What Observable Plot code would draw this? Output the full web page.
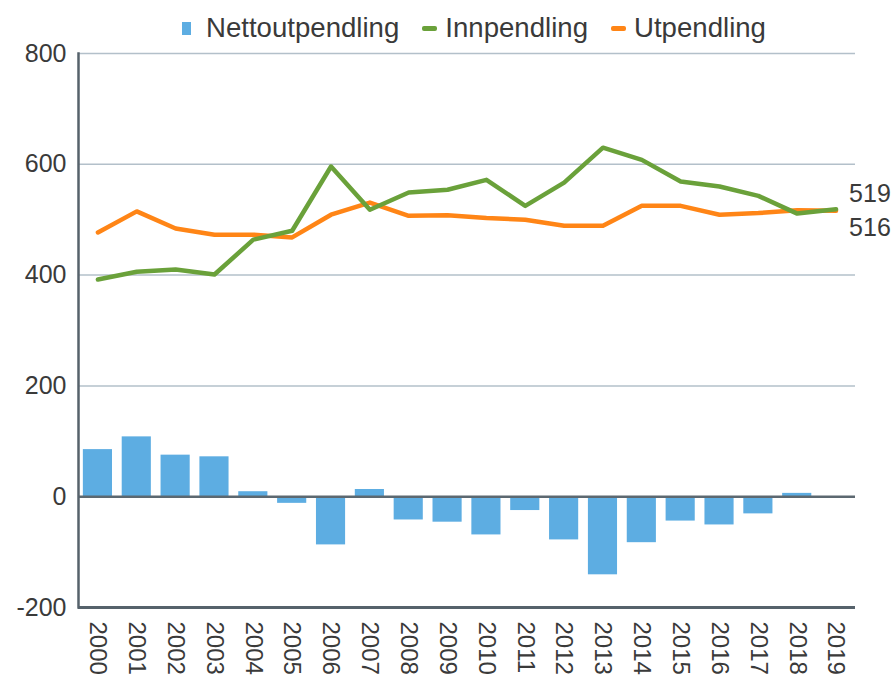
<!DOCTYPE html>
<html><head><meta charset="utf-8">
<script src="https://cdn.jsdelivr.net/npm/d3@7"></script>
<script src="https://cdn.jsdelivr.net/npm/@observablehq/plot@0.6"></script>
<style>
body{margin:0;background:#fff;font-family:"Liberation Sans",Arial,sans-serif;}
#wrap{position:relative;width:895px;height:681px;}
#legend{position:absolute;top:0;left:0;width:895px;height:56px;display:flex;justify-content:flex-start;align-items:center;padding-left:182px;box-sizing:border-box;font-size:27.6px;color:#3a3a3a;}
.item{display:flex;align-items:center;}
.sq{width:9px;height:13px;margin-right:15px;}
.ln{width:15px;height:5px;border-radius:2px;margin-left:23px;margin-right:8px;}
</style></head><body>
<div id="wrap"><div id="legend"></div><div id="chart"></div></div>
<script>
const years = ["2000","2001","2002","2003","2004","2005","2006","2007","2008","2009","2010","2011","2012","2013","2014","2015","2016","2017","2018","2019"];
const netto = [85,108,75,72,9,-12,-87,13,-42,-46,-69,-25,-78,-141,-83,-44,-51,-31,6,-3];
const inn = [392,406,410,401,464,480,596,518,549,554,572,525,567,630,608,569,560,543,511,519];
const ut = [477,515,484,473,473,468,509,531,507,508,503,500,489,489,525,525,509,512,517,516];
const yTicks = [-200,0,200,400,600,800];
const seriesNames = ["Nettoutpendling","Innpendling","Utpendling"];
const colors = ["#5dade2","#6aa13a","#ff8516"];

const data = years.map((y,i)=>({year:y, netto:netto[i], inn:inn[i], ut:ut[i]}));

const leg = document.getElementById("legend");
seriesNames.forEach((n,i)=>{
  const it = document.createElement("div"); it.className="item";
  const sw = document.createElement("div"); sw.className = i===0 ? "sq" : "ln"; sw.style.background = colors[i];
  const tx = document.createElement("span"); tx.textContent = n;
  it.appendChild(sw); it.appendChild(tx); leg.appendChild(it);
});

const font = "'Liberation Sans', Arial, sans-serif";
const chart = Plot.plot({
  width:895, height:681,
  marginTop:53, marginBottom:74, marginLeft:78, marginRight:40,
  style:{fontFamily:font, background:"white", color:"#3a3a3a", overflow:"visible"},
  x:{type:"band", domain:years, paddingInner:0.25, paddingOuter:0.125, round:false, label:null},
  y:{domain:[-200,800], label:null},
  marks:[
    Plot.ruleY(yTicks.filter(d=>d>0), {stroke:"#b3c0ca", strokeWidth:1.5}),
    Plot.barY(data, {x:"year", y:"netto", fill:colors[0]}),
    Plot.ruleY([0], {stroke:"#5c6870", strokeWidth:2.5}),
    Plot.ruleY([-200], {stroke:"#56626b", strokeWidth:3}),
    Plot.frame({anchor:"left", stroke:"#56626b", strokeWidth:2.5}),
    Plot.lineY(data, {x:"year", y:"ut", stroke:colors[2], strokeWidth:4.5}),
    Plot.lineY(data, {x:"year", y:"inn", stroke:colors[1], strokeWidth:4.5}),
    Plot.text(data, Plot.selectLast({x:"year", y:"inn", text:d=>String(d.inn), dx:13, dy:-15, textAnchor:"start", fontSize:25, fill:"#3a3a3a"})),
    Plot.text(data, Plot.selectLast({x:"year", y:"ut", text:d=>String(d.ut), dx:13, dy:17, textAnchor:"start", fontSize:25, fill:"#3a3a3a"})),
    Plot.axisY({ticks:yTicks, tickSize:0, tickPadding:12, fontSize:25, fill:"#3a3a3a", tickFormat:d=>String(d), label:null}),
    Plot.axisX({tickSize:0, tickRotate:90, tickPadding:14, fontSize:24, fill:"#3a3a3a", label:null})
  ]
});
document.getElementById("chart").appendChild(chart);
</script>
</body></html>
